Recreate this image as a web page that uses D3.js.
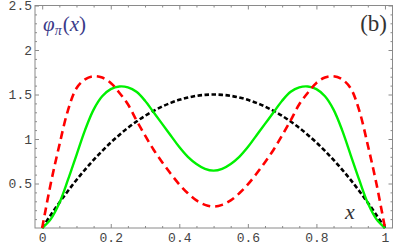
<!DOCTYPE html>
<html><head><meta charset="utf-8">
<script src="https://cdn.jsdelivr.net/npm/d3@7"></script>
<style>body{margin:0;background:#fff}svg{display:block}</style>
</head><body>
<svg id="c" width="399" height="247"></svg>
<script>
const xs = [0,0.025,0.05,0.075,0.1,0.125,0.15,0.175,0.2,0.225,0.25,0.275,0.3,0.325,0.35,0.375,0.4,0.425,0.45,0.475,0.5,
            0.525,0.55,0.575,0.6,0.625,0.65,0.675,0.7,0.725,0.75,0.775,0.8,0.825,0.85,0.875,0.9,0.925,0.95,0.975,1];
const blackVals = [0,0.146,0.285,0.416,0.54,0.656,0.765,0.866,0.96,1.046,1.125,1.196,1.26,1.316,1.365,1.406,1.44,1.466,1.485,1.496,1.5,
                   1.496,1.485,1.466,1.44,1.406,1.365,1.316,1.26,1.196,1.125,1.046,0.96,0.866,0.765,0.656,0.54,0.416,0.285,0.146,0];
const redVals = [0,0.50,0.93,1.32,1.57,1.67,1.705,1.69,1.63,1.52,1.39,1.21,1.04,0.88,0.74,0.61,0.49,0.39,0.31,0.26,0.24,
                 0.26,0.31,0.39,0.49,0.61,0.74,0.88,1.04,1.21,1.39,1.52,1.63,1.69,1.705,1.67,1.57,1.32,0.93,0.50,0];
const greenVals = [0,0.10,0.28,0.54,0.82,1.10,1.33,1.48,1.56,1.59,1.58,1.53,1.43,1.30,1.17,1.04,0.91,0.80,0.72,0.665,0.645,
                   0.665,0.72,0.80,0.91,1.04,1.17,1.30,1.43,1.53,1.58,1.59,1.56,1.48,1.33,1.10,0.82,0.54,0.28,0.10,0];
const xTickLabels = ["0","0.2","0.4","0.6","0.8","1"];
const xTicks = [0,0.2,0.4,0.6,0.8,1];
const yTickLabels = ["0.5","1","1.5","2","2.5"];
const yTicks = [0.5,1,1.5,2,2.5];

const svg = d3.select("#c");
const x = d3.scaleLinear().domain([-0.021,1.022]).range([35,392.5]);
const y = d3.scaleLinear().domain([0,2.5]).range([228,5.5]);
const [X0,X1] = x.range(); const [Y0,Y1] = y.range();

const xMinor = d3.range(0,1.0001,0.05).filter(v=>Math.abs(v*5-Math.round(v*5))>1e-6);
const yMinor = d3.range(0.1,2.5001,0.1).filter(v=>Math.abs(v*2-Math.round(v*2))>1e-6);

const frameColor = "#8a8a8a";
function styleAxis(g){ g.select(".domain").remove(); g.selectAll("line").attr("stroke",frameColor);
  g.selectAll("text").attr("font-family","'Liberation Mono', monospace").attr("font-size",13).attr("fill","#444"); }

svg.append("g").attr("transform",`translate(0,${Y0})`)
  .call(d3.axisBottom(x).tickValues(xTicks).tickFormat((d,i)=>xTickLabels[i]).tickSize(-4).tickPadding(5)).call(styleAxis);
svg.append("g").attr("transform",`translate(${X0},0)`)
  .call(d3.axisLeft(y).tickValues(yTicks).tickFormat((d,i)=>yTickLabels[i]).tickSize(-4).tickPadding(3)).call(styleAxis);
svg.append("g").attr("transform",`translate(0,${Y1})`)
  .call(d3.axisTop(x).tickValues(xTicks).tickFormat("").tickSize(-4)).call(styleAxis);
svg.append("g").attr("transform",`translate(${X1},0)`)
  .call(d3.axisRight(y).tickValues(yTicks).tickFormat("").tickSize(-4)).call(styleAxis);
svg.append("g").attr("transform",`translate(0,${Y0})`).call(d3.axisBottom(x).tickValues(xMinor).tickFormat("").tickSize(-2)).call(styleAxis);
svg.append("g").attr("transform",`translate(0,${Y1})`).call(d3.axisTop(x).tickValues(xMinor).tickFormat("").tickSize(-2)).call(styleAxis);
svg.append("g").attr("transform",`translate(${X0},0)`).call(d3.axisLeft(y).tickValues(yMinor).tickFormat("").tickSize(-2)).call(styleAxis);
svg.append("g").attr("transform",`translate(${X1},0)`).call(d3.axisRight(y).tickValues(yMinor).tickFormat("").tickSize(-2)).call(styleAxis);

svg.append("rect").attr("x",X0).attr("y",Y1).attr("width",X1-X0).attr("height",Y0-Y1)
  .attr("fill","none").attr("stroke",frameColor).attr("stroke-width",1);

svg.append("clipPath").attr("id","cp").append("rect")
  .attr("x",X0).attr("y",Y1).attr("width",X1-X0).attr("height",Y0-Y1+2);
const line = d3.line().x((d,i)=>x(xs[i])).y(d=>y(d)).curve(d3.curveCatmullRom);
const plot = svg.append("g").attr("clip-path","url(#cp)");
plot.append("path").datum(blackVals).attr("d",line).attr("fill","none").attr("stroke","#000")
  .attr("stroke-width",2.6).attr("stroke-dasharray","4.5,2.5");
plot.append("path").datum(greenVals).attr("d",line).attr("fill","none").attr("stroke","#00f000")
  .attr("stroke-width",2.4);
plot.append("path").datum(redVals).attr("d",line).attr("fill","none").attr("stroke","#ff0000")
  .attr("stroke-width",2.6).attr("stroke-dasharray","8,5");

const ann = svg.append("text").attr("x",43).attr("y",31).attr("font-family","'Liberation Serif', serif")
  .attr("font-size",21).attr("fill","#3a3a88");
ann.append("tspan").attr("font-style","italic").text("φ");
ann.append("tspan").attr("font-style","italic").attr("font-size",14).attr("dy",4).text("π");
ann.append("tspan").attr("dy",-4).attr("dx",1).text("(");
ann.append("tspan").attr("font-style","italic").text("x");
ann.append("tspan").text(")");
svg.append("text").attr("x",387).attr("y",31).attr("text-anchor","end")
  .attr("font-family","'Liberation Serif', serif").attr("font-size",23).attr("fill","#333").text("(b)");
svg.append("text").attr("x",345).attr("y",219).attr("font-family","'Liberation Serif', serif")
  .attr("font-style","italic").attr("font-size",22).attr("fill","#333").text("x");
</script>
</body></html>
